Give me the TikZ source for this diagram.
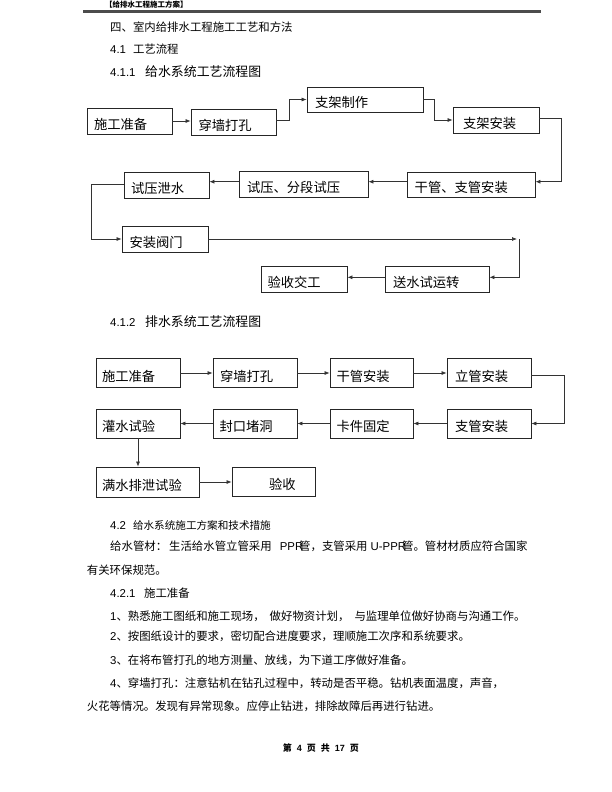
\documentclass[tikz,border=0pt]{standalone}
\usepackage{fontspec}
\setmainfont{Noto Sans CJK SC}
\newfontfamily\latf{Liberation Sans}
\usetikzlibrary{arrows.meta,calc}
\newcommand\myfs[1]{\fontsize{#1}{#1}\selectfont}
\begin{document}
\begin{tikzpicture}[x=1pt,y=-1pt,
  box/.style={draw=black!85,line width=0.8pt,inner xsep=7pt,inner ysep=0pt,align=left,
    text height=16pt,text depth=0pt,font=\myfs{13.3pt}},
  arr/.style={draw=black!80,line width=0.7pt,-{Latex[length=5pt,width=4pt]}},
  txt/.style={anchor=west,inner sep=0pt,font=\myfs{11.4pt}}]
\useasboundingbox (0,0) rectangle (612,792);
\fill[white] (0,0) rectangle (612,792);

% header
\node[txt,font=\myfs{7.5pt}\bfseries] (hd) at (105,4.2) {【给排水工程施工方案】};
\draw[black!70,line width=2.5pt] (83,11.5) -- (541,11.5);

% headings
\node[txt] (h4) at (110,26.7) {四、室内给排水工程施工工艺和方法};
\node[txt] (h41) at (110,49.3) {{\latf 4.1}\hspace{7pt}工艺流程};
\node[txt] (h411) at (110,71.7) {{\latf 4.1.1}\hspace{9.6pt}{\myfs{12.9pt}给水系统工艺流程图}};

% diagram 1
\node[box,inner xsep=7pt,text width=71pt,minimum height=26pt] (a1) at (129.5,121) {施工准备};
\node[box,inner xsep=7.5pt,text width=70pt,minimum height=26pt] (a2) at (233.5,122) {穿墙打孔};
\node[box,inner xsep=8pt,text width=100pt,minimum height=25pt] (a3) at (365,99.5) {支架制作};
\node[box,inner xsep=10pt,text width=66pt,minimum height=26pt] (a4) at (496,120) {支架安装};
\node[box,inner xsep=7.7pt,text width=112.6pt,minimum height=25pt] (a5) at (471,184.5) {干管、支管安装};
\node[box,inner xsep=8pt,text width=113pt,minimum height=26pt] (a6) at (303.5,184) {试压、分段试压};
\node[box,inner xsep=7pt,text width=71pt,minimum height=26pt] (a7) at (166.5,185) {试压泄水};
\node[box,inner xsep=7.5pt,text width=71pt,minimum height=26pt] (a8) at (165,239) {安装阀门};
\node[box,inner xsep=8pt,text width=88pt,minimum height=26pt] (a9) at (437,279) {送水试运转};
\node[box,inner xsep=6.5pt,text width=73pt,minimum height=26pt] (a10) at (304,279) {验收交工};
\coordinate (c1) at (517,239);
\coordinate (c2) at (519.5,239);

\draw[arr] (a1.east) -- (a1.east -| a2.west);
\draw[arr] ($(a2.east)+(0,-2)$) -- ++(12.5,0) |- (a3.west);
\draw[arr] (a3.east) -- ++(11,0) |- (a4.west);
\draw[arr] ($(a4.east)+(0,-1.7)$) -- ++(22,0) |- ($(a5.east)+(0,-2.8)$);
\draw[arr] ($(a5.west)+(0,-2.8)$) -- ($(a6.east)+(0,-2.3)$);
\draw[arr] ($(a6.west)+(0,-2.3)$) -- ($(a7.east)+(0,-3.3)$);
\draw[arr] ($(a7.west)+(0,-1)$) -- ++(-32.5,0) |- (a8.west);
\draw[arr] (a8.east) -- (c1);
\draw[arr] (c2) |- ($(a9.east)+(0,-1.7)$);
\draw[arr] ($(a9.west)+(0,-1.7)$) -- ($(a10.east)+(0,-1.7)$);

% diagram 2
\node[txt] (h412) at (110,321.7) {{\latf 4.1.2}\hspace{9.6pt}{\myfs{12.9pt}排水系统工艺流程图}};
\node[box,inner xsep=6pt,text width=72pt,minimum height=29pt] (b1) at (138,373) {施工准备};
\node[box,inner xsep=7pt,text width=70pt,minimum height=29pt] (b2) at (255,373) {穿墙打孔};
\node[box,inner xsep=6.5pt,text width=70pt,minimum height=29pt] (b3) at (371.5,373) {干管安装};
\node[box,inner xsep=8pt,text width=68pt,minimum height=29pt] (b4) at (489,373) {立管安装};
\node[box,inner xsep=8pt,text width=68pt,minimum height=29pt] (b5) at (489,423.5) {支管安装};
\node[box,inner xsep=6.5pt,text width=70pt,minimum height=29pt] (b6) at (371.5,423.5) {卡件固定};
\node[box,inner xsep=6.5pt,text width=71pt,minimum height=29pt] (b7) at (255,423.5) {封口堵洞};
\node[box,inner xsep=6pt,text width=72pt,minimum height=29pt] (b8) at (138,423.5) {灌水试验};
\node[box,inner xsep=6pt,text width=91pt,minimum height=30pt] (b9) at (147.5,482) {满水排泄试验};
\node[box,inner xsep=6pt,text width=71pt,minimum height=29pt] (b10) at (273.5,481.5) {\hspace*{31pt}验收};

\draw[arr] (b1.east) -- (b2.west);
\draw[arr] (b2.east) -- (b3.west);
\draw[arr] (b3.east) -- (b4.west);
\draw[arr] ($(b4.east)+(0,2)$) -- ++(32.5,0) |- (b5.east);
\draw[arr] (b5.west) -- (b6.east);
\draw[arr] (b6.west) -- (b7.east);
\draw[arr] (b7.west) -- (b8.east);
\draw[arr] (b8.south) -- (b8.south |- b9.north);
\draw[arr] (b9.east) -- (b9.east -| b10.west);

% body text
\node[txt] (h42) at (110,525) {{\latf 4.2}\hspace{7pt}{\myfs{10.6pt}给水系统施工方案和技术措施}};
\node[txt] (p1) at (110,546.7) {给水管材：\hspace{2pt}生活给水管立管采用\hspace{8pt}{\latf PPR}\hspace{-4pt}管，支管采用\hspace{3pt}{\latf U-PPR}\hspace{-4pt}管。管材材质应符合国家};
\node[txt] (p2) at (86.7,570) {有关环保规范。};
\node[txt] (h421) at (110,592.7) {{\latf 4.2.1}\hspace{8.6pt}施工准备};
\node[txt] (l1) at (110,616) {{\latf 1}、熟悉施工图纸和施工现场，\hspace{5pt}做好物资计划，\hspace{5pt}与监理单位做好协商与沟通工作。};
\node[txt] (l2) at (110,636.7) {{\latf 2}、按图纸设计的要求，密切配合进度要求，理顺施工次序和系统要求。};
\node[txt] (l3) at (110,660.7) {{\latf 3}、在将布管打孔的地方测量、放线，为下道工序做好准备。};
\node[txt] (l4) at (110,683.3) {{\latf 4}、穿墙打孔：注意钻机在钻孔过程中，转动是否平稳。钻机表面温度，声音，};
\node[txt] (l5) at (86.7,706.7) {火花等情况。发现有异常现象。应停止钻进，排除故障后再进行钻进。};

% footer
\node[inner sep=0pt,font=\myfs{9pt}\bfseries] (ft) at (320.8,747.7) {第\hspace{5pt}{\latf 4}\hspace{5pt}页\hspace{5pt}共\hspace{5pt}{\latf 17}\hspace{5pt}页};
\end{tikzpicture}
\end{document}
